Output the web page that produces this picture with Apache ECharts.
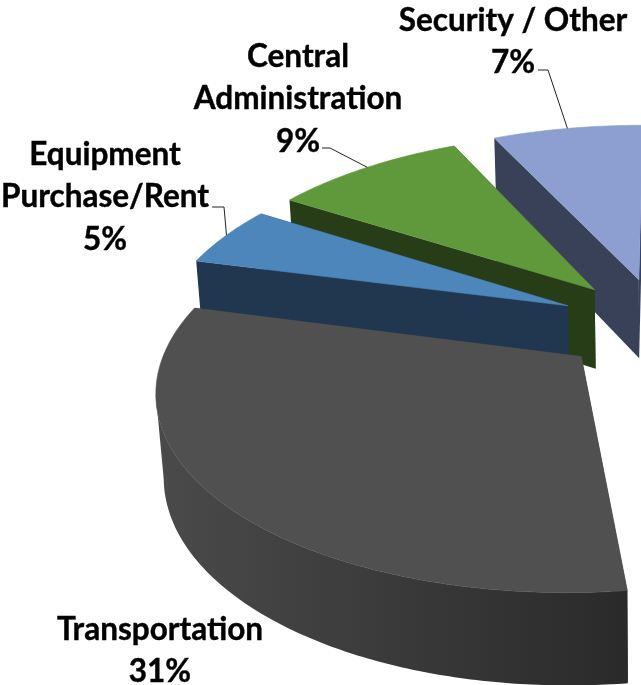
<!DOCTYPE html>
<html><head><meta charset="utf-8">
<style>html,body{margin:0;padding:0;background:#fff}#c{width:641px;height:685px}</style>
<script src="https://cdn.jsdelivr.net/npm/echarts@6/dist/echarts.min.js"></script>
</head><body><div id="c"></div>
<script>
// Data
const categories = ['Transportation', 'Equipment\nPurchase/Rent', 'Central\nAdministration', 'Security / Other'];
const values = [31, 5, 9, 7];
// Style
const topColors = ['#505050', '#4d86bb', '#60993c', '#8c9fd0'];
const wallColors = ['#3c3c3c', '#20374f', '#273d18', '#384158'];
const labelCenters = [[160, 628], [105, 153], [298, 55], [513, 19]];
const leaderStarts = [null, [[212, 207], [224, 207]], [[322, 148], [330, 148]], [[538, 70], [548, 70]]];
// Projection of the tilted, exploded pie
const P = {x0: 660, y0: 324.5, A: 408, B: 190, k: 0.15, m: 0.015, H: 82, explode: 0.25, start: -7};
const rad = d => d * Math.PI / 180;
function project(X, Y, down) {
  const w = 1 - P.k * Y + (down ? P.m : 0);
  return [P.x0 + P.A * X / w, P.y0 + (P.B * Y + (down ? P.H : 0)) / w];
}
function polar(a, r, mid) {
  return [P.explode * -Math.sin(rad(mid)) + r * -Math.sin(rad(a)),
          P.explode * Math.cos(rad(mid)) + r * Math.cos(rad(a))];
}
let acc = P.start;
const spans = values.map(v => { const s = acc; acc += v * 3.6; return [s, acc]; });
const order = categories.map((_, i) => i).reverse();

function arcPts(i, down) {
  const [a0, a1] = spans[i], mid = (a0 + a1) / 2, out = [];
  const n = Math.max(8, Math.round((a1 - a0) * 1.5));
  for (let j = 0; j <= n; j++) {
    const q = polar(a0 + (a1 - a0) * j / n, 1, mid);
    out.push(project(q[0], q[1], down));
  }
  return out;
}
function apex(i, down) {
  const mid = (spans[i][0] + spans[i][1]) / 2, q = polar(0, 0, mid);
  return project(q[0], q[1], down);
}
function renderSlice(params, api) {
  const i = api.value(0), top = arcPts(i, false), bot = arcPts(i, true);
  const aT = apex(i, false), aB = apex(i, true), last = top.length - 1;
  const wallFill = i === 0
    ? {type: 'linear', global: true, x: 158, y: 0, x2: 629, y2: 0, colorStops: [{offset: 0, color: '#4a4a4a'}, {offset: 1, color: '#2a2a2a'}]}
    : wallColors[i];
  const poly = (pts, fill, stroke) => ({type: 'polygon', shape: {points: pts}, style: {fill: fill, stroke: stroke || null, lineWidth: stroke ? 0.6 : 0}});
  // The outer wall is visible only up to the arc's leftmost point
  let jm = 0;
  top.forEach((p, j) => { if (p[0] < top[jm][0]) jm = j; });
  const kids = [
    poly([aT, top[0], bot[0], aB], wallColors[i]),
    poly([aT, top[last], bot[last], aB], wallColors[i])
  ];
  if (jm > 0) kids.push(poly(top.slice(0, jm + 1).concat(bot.slice(0, jm + 1).reverse()), wallFill));
  kids.push(poly([aT].concat(top), topColors[i], topColors[i]));
  return {type: 'group', children: kids};
}
function renderLabel(params, api) {
  const i = api.value(0), c = labelCenters[i], kids = [];
  const pct = values[i] + '%';
  kids.push({type: 'text', style: {
    text: categories[i] + '\n' + pct, x: c[0], y: c[1] - 19.5, align: 'center', verticalAlign: 'top',
    font: 'bold 31.5px Lato', lineHeight: 42.5, fill: '#000', stroke: '#000', lineWidth: 0.4
  }});
  if (leaderStarts[i]) {
    const t = arcPts(i, false), end = t[Math.round((t.length - 1) / 2)];
    kids.push({type: 'polyline', shape: {points: leaderStarts[i].concat([end])}, style: {stroke: '#222', lineWidth: 1, fill: null}});
  }
  return {type: 'group', children: kids};
}
const chart = echarts.init(document.getElementById('c'), null, {renderer: 'canvas'});
chart.setOption({
  animation: false,
  backgroundColor: '#fff',
  series: [
    {type: 'custom', coordinateSystem: 'none', renderItem: renderSlice, data: order.map(i => [i, values[i]]), silent: true, z: 1},
    {type: 'custom', coordinateSystem: 'none', renderItem: renderLabel, data: order.map(i => [i, values[i]]), silent: true, z: 2}
  ]
});
</script></body></html>
